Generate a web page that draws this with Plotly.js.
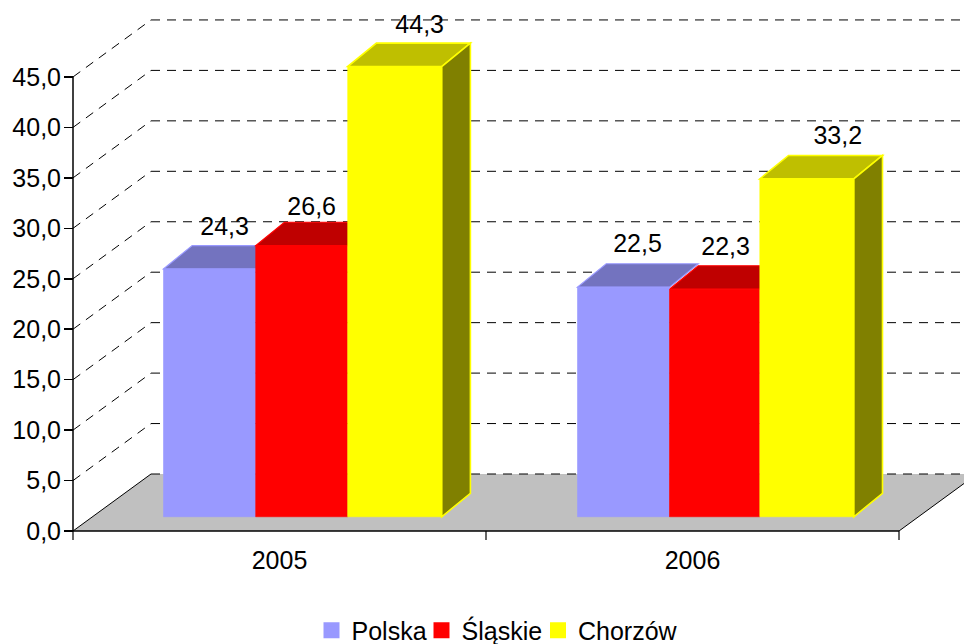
<!DOCTYPE html>
<html>
<head>
<meta charset="utf-8">
<script src="https://cdn.plot.ly/plotly-3.0.1.min.js"></script>
<style>html,body{margin:0;padding:0;background:#fff;overflow:hidden;width:964px;height:644px}#c{width:964px;height:690px}</style>
</head>
<body>
<div id="c"></div>
<script>
// ---- data ----
const categories = ['2005', '2006'];
const polska = [24.3, 22.5];
const slaskie = [26.6, 22.3];
const chorzow = [44.3, 33.2];
const seriesNames = ['Polska', 'Śląskie', 'Chorzów'];
const yTicks = [0, 5, 10, 15, 20, 25, 30, 35, 40, 45];

// ---- style ----
const frontColors = ['#9999ff', '#ff0000', '#ffff00'];
const topColors = ['#7373bf', '#bf0000', '#bfbf00'];
const sideColor = '#808000';
const font = 'Liberation Sans, Arial, sans-serif';

// ---- pseudo-3D layout, in axis units ----
const W = 964, H = 690, axisLeft = 73, axisBottom = 531, pxPerCat = 413, pxPerVal = 10.09;
const floorDX = 78 / pxPerCat, floorDY = 57 / pxPerVal;
const barDX = 28.7 / pxPerCat, barDY = 23.4 / pxPerVal;
const barBase = 1.41, topLift = 1.6, barStretch = 1.003;
const catCenters = [0.5, 1.5];
// bar edges per category (rows) and series (columns), as offsets from the category centre, px
const barOffsetsPx = [[-116, -23.8, 68.2], [-115, -23, 67.3]];
const barWidthsPx = [[92.2, 92, 94], [92, 90.3, 94]];
const labelNudgePx = [[15, 10, 25], [14, 11, 31]];
const labelLiftPx = [[40, 37, 40], [41, 40, 41]];
const legendLeftPx = [316.5, 426.5, 543];

const seriesValues = [polska, slaskie, chorzow];
const topOf = v => topLift + v * barStretch;
const barLeft = (ci, si) => catCenters[ci] + barOffsetsPx[ci][si] / pxPerCat;
const barW = (ci, si) => barWidthsPx[ci][si] / pxPerCat;
const poly = pts => 'M' + pts.map(p => p[0] + ',' + p[1]).join('L') + 'Z';
const shapes = [];
const dataShape = o => Object.assign({xref: 'x', yref: 'y', layer: 'below'}, o);
const line = (x0, y0, x1, y1, color, width, dash) => dataShape({type: 'line', x0, y0, x1, y1, line: {color, width, dash: dash || 'solid'}});

// floor
shapes.push(dataShape({type: 'path', path: poly([[0, 0], [2, 0], [2 + floorDX, floorDY], [floorDX, floorDY]]), fillcolor: '#c0c0c0', line: {width: 0}}));
shapes.push(line(0, 0, floorDX, floorDY, '#000', 1));
shapes.push(line(2, 0, 2 + floorDX, floorDY, '#000', 1));
// gridlines on the two walls
const xMax = (W - axisLeft) / pxPerCat;
yTicks.forEach(v => {
  if (v > 0) shapes.push(line(0, v, floorDX, v + floorDY, '#000', 1, '9px,7px'));
  shapes.push(line(floorDX, v + floorDY, xMax, v + floorDY, '#000', 1, '9px,7px'));
});
// bar tops and the visible side
categories.forEach((c, ci) => {
  seriesValues.forEach((vals, si) => {
    const x0 = barLeft(ci, si), x1 = x0 + barW(ci, si);
    const top = topOf(vals[ci]);
    const last = si === seriesValues.length - 1;
    shapes.push(dataShape({type: 'path', path: poly([[x0, top], [x1, top], [x1 + barDX, top + barDY], [x0 + barDX, top + barDY]]),
      fillcolor: topColors[si], line: {color: frontColors[si], width: last ? 1.6 : 1.2}}));
    if (last) {
      shapes.push(dataShape({type: 'path', path: poly([[x1, barBase], [x1 + barDX, barBase + barDY], [x1 + barDX, top + barDY], [x1, top]]),
        fillcolor: sideColor, line: {color: frontColors[si], width: 1.6}}));
    }
  });
});
// axis lines and category tick marks
shapes.push(line(0, 0, 0, 45, '#000', 1.5));
shapes.push(line(0, 0, 2, 0, '#000', 1.5));
[0, 1, 2].forEach(x => shapes.push(line(x, 0, x, -9 / pxPerVal, '#000', 1.2)));

// traces
const traces = seriesValues.map((vals, si) => ({
  type: 'bar', name: seriesNames[si], showlegend: false,
  x: catCenters, y: vals.map(v => topOf(v) - barBase), base: barBase,
  width: catCenters.map((c, ci) => barW(ci, si)),
  offset: catCenters.map((c, ci) => barOffsetsPx[ci][si] / pxPerCat),
  marker: {color: frontColors[si], line: {color: frontColors[si], width: 0.6}},
  hoverinfo: 'name+text', hovertext: vals
}));
const legendIds = ['legend', 'legend2', 'legend3'];
seriesValues.forEach((vals, si) => traces.push({
  type: 'bar', name: seriesNames[si], x: [null], y: [null], showlegend: true, legend: legendIds[si],
  marker: {color: frontColors[si], line: {color: frontColors[si], width: 4}}
}));
const lx = [], ly = [], lt = [];
seriesValues.forEach((vals, si) => vals.forEach((v, ci) => {
  lx.push(barLeft(ci, si) + barW(ci, si) / 2 + labelNudgePx[ci][si] / pxPerCat);
  ly.push(topOf(v) + labelLiftPx[ci][si] / pxPerVal);
  lt.push(v.toFixed(1).replace('.', ','));
}));
traces.push({type: 'scatter', mode: 'text', x: lx, y: ly, text: lt, textposition: 'middle center',
  textfont: {family: font, size: 25, color: '#000'}, showlegend: false, cliponaxis: false, hoverinfo: 'skip'});

const layout = {
  width: W, height: H, margin: {l: 0, r: 0, t: 0, b: 0, pad: 0},
  paper_bgcolor: '#fff', plot_bgcolor: 'rgba(0,0,0,0)',
  separators: ', ',
  font: {family: font, size: 25, color: '#000'},
  showlegend: true,
  xaxis: {
    range: [-axisLeft / pxPerCat, xMax], domain: [0, 1], anchor: 'free', position: (H - axisBottom) / H,
    showgrid: false, zeroline: false, showline: false,
    tickmode: 'array', tickvals: catCenters, ticktext: categories, ticks: 'outside', ticklen: 7, tickcolor: 'rgba(0,0,0,0)',
    tickfont: {family: font, size: 25, color: '#000'}, fixedrange: true
  },
  yaxis: {
    range: [-(H - axisBottom) / pxPerVal, axisBottom / pxPerVal], domain: [0, 1], anchor: 'free', position: axisLeft / W,
    showgrid: false, zeroline: false, showline: false,
    tickmode: 'array', tickvals: yTicks, tickformat: '.1f', ticks: 'outside', ticklen: 9, tickwidth: 1.5, tickcolor: '#000',
    ticklabelstandoff: -2,
    tickfont: {family: font, size: 25, color: '#000'}, fixedrange: true
  },
  shapes: shapes,
  hovermode: false
};
legendIds.forEach((id, i) => {
  layout[id] = {orientation: 'h', x: legendLeftPx[i] / W, xanchor: 'left', y: (H - 630.5) / H, yanchor: 'middle',
    indentation: -5, bgcolor: 'rgba(0,0,0,0)', font: {family: font, size: 25, color: '#000'}};
});
Plotly.newPlot('c', traces, layout, {displayModeBar: false, staticPlot: true});
</script>
</body>
</html>
